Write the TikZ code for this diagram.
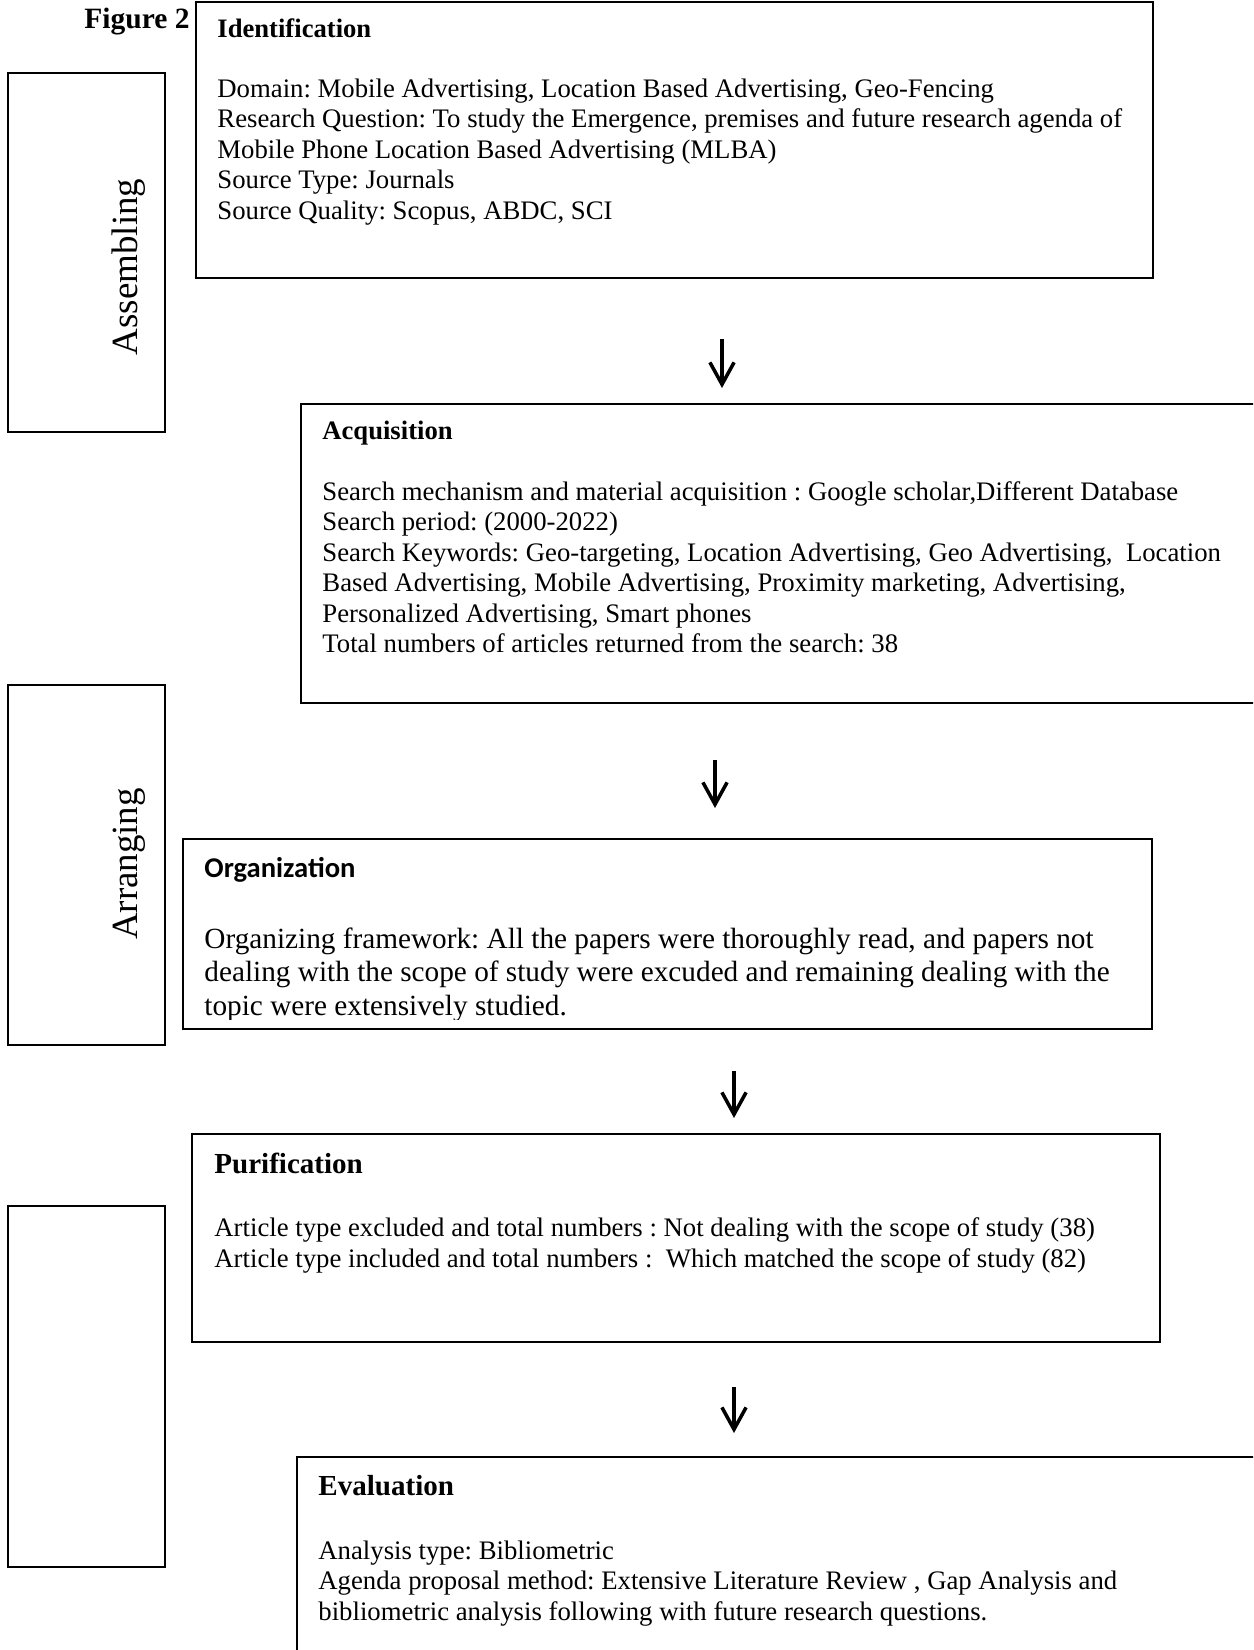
\documentclass[tikz,border=0pt]{standalone}
\usepackage{fontspec}
\setmainfont{Liberation Serif}
\newfontfamily\calibrifont{Carlito}
\usetikzlibrary{arrows.meta,fit}
\frenchspacing
\begin{document}
\frenchspacing
\begin{tikzpicture}[x=0.4545pt,y=-0.4545pt,
  frame/.style={draw, line width=1.15pt, inner sep=0pt, outer sep=0pt},
  body/.style={anchor=base west, inner sep=0pt, font=\fontsize{12.15}{14}\selectfont},
  bigbody/.style={anchor=base west, inner sep=0pt, font=\fontsize{13.3}{15.3}\selectfont},
  head/.style={anchor=base west, inner sep=0pt, font=\bfseries\fontsize{12.1}{14}\selectfont},
  bighead/.style={anchor=base west, inner sep=0pt, font=\bfseries\fontsize{13.2}{15}\selectfont},
  sidelabel/.style={rotate=90, inner sep=0pt, font=\fontsize{16.8}{19}\selectfont},
  arr/.style={line width=1.6pt, -{Straight Barb[length=10pt,width=11pt]}}]
\clip (0,0) rectangle (1253,1650);
\fill[white] (0,0) rectangle (1253,1650);

% title
\node[anchor=base west, inner sep=0pt, font=\bfseries\fontsize{13.4}{15}\selectfont] (fig) at (84,28) {Figure 2};

% side boxes
\node[frame, fit={(8,73) (165,432)}] (asmbox) {};
\node[frame, fit={(8,685) (165,1045)}] (arrbox) {};
\node[frame, fit={(8,1206) (165,1567)}] (blankbox) {};
\node[sidelabel] (asm) at (129,267) {Assembling};
\node[sidelabel] (arrg) at (129,864) {Arranging};

% main boxes
\node[frame, fit={(196,2) (1153,278)}] (ident) {};
\node[frame, fit={(301,404) (1300,703)}] (acq) {};
\node[frame, fit={(183,839) (1152,1029)}] (org) {};
\node[frame, fit={(192,1134) (1160,1342)}] (pur) {};
\node[frame, fit={(297,1457) (1300,1700)}] (eval) {};

% Identification
\node[head] (ident-h) at (217,37) {Identification};
\foreach \t [count=\i] in {{Domain: Mobile Advertising, Location Based Advertising, Geo-Fencing},
  {Research Question: To study the Emergence, premises and future research agenda of},
  {Mobile Phone Location Based Advertising (MLBA)},
  {Source Type: Journals},
  {Source Quality: Scopus, ABDC, SCI}}
  \node[body] (ident-\i) at (217,{97+30.5*(\i-1)}) {\t};

% Acquisition
\node[head] (acq-h) at (322,439) {Acquisition};
\foreach \t [count=\i] in {{Search mechanism and material acquisition : Google scholar,Different Database},
  {Search period: (2000-2022)},
  {Search Keywords: Geo-targeting, Location Advertising, Geo Advertising,\ \ Location},
  {Based Advertising, Mobile Advertising, Proximity marketing, Advertising,},
  {Personalized Advertising, Smart phones},
  {Total numbers of articles returned from the search: 38}}
  \node[body] (acq-\i) at (322,{500+30.5*(\i-1)}) {\t};

% Organization
\node[anchor=base west, inner sep=0pt, font=\calibrifont\bfseries\fontsize{13}{15}\selectfont] (org-h) at (204,877) {Organization};
\begin{scope}
\clip (183,839) rectangle (1152,1019);
\foreach \t [count=\i] in {{Organizing framework: All the papers were thoroughly read, and papers not},
  {dealing with the scope of study were excuded and remaining dealing with the},
  {topic were extensively studied.}}
  \node[bigbody] (org-\i) at (204,{948+33.7*(\i-1)}) {\t};
\end{scope}

% Purification
\node[bighead] (pur-h) at (214,1173) {Purification};
\foreach \t [count=\i] in {{Article type excluded and total numbers : Not dealing with the scope of study (38)},
  {Article type included and total numbers :\ \ Which matched the scope of study (82)}}
  \node[body] (pur-\i) at (214,{1236+31*(\i-1)}) {\t};

% Evaluation
\node[bighead] (eval-h) at (318,1495) {Evaluation};
\foreach \t [count=\i] in {{Analysis type: Bibliometric},
  {Agenda proposal method: Extensive Literature Review , Gap Analysis and},
  {bibliometric analysis following with future research questions.}}
  \node[body] (eval-\i) at (318,{1559+30.5*(\i-1)}) {\t};

% arrows
\coordinate (a1s) at (722,339); \coordinate (a1e) at (722,388);
\coordinate (a2s) at (715,760); \coordinate (a2e) at (715,808);
\coordinate (a3s) at (734,1071); \coordinate (a3e) at (734,1118);
\coordinate (a4s) at (734,1387); \coordinate (a4e) at (734,1433);
\draw[arr] (a1s) -- (a1e);
\draw[arr] (a2s) -- (a2e);
\draw[arr] (a3s) -- (a3e);
\draw[arr] (a4s) -- (a4e);
\end{tikzpicture}
\end{document}
